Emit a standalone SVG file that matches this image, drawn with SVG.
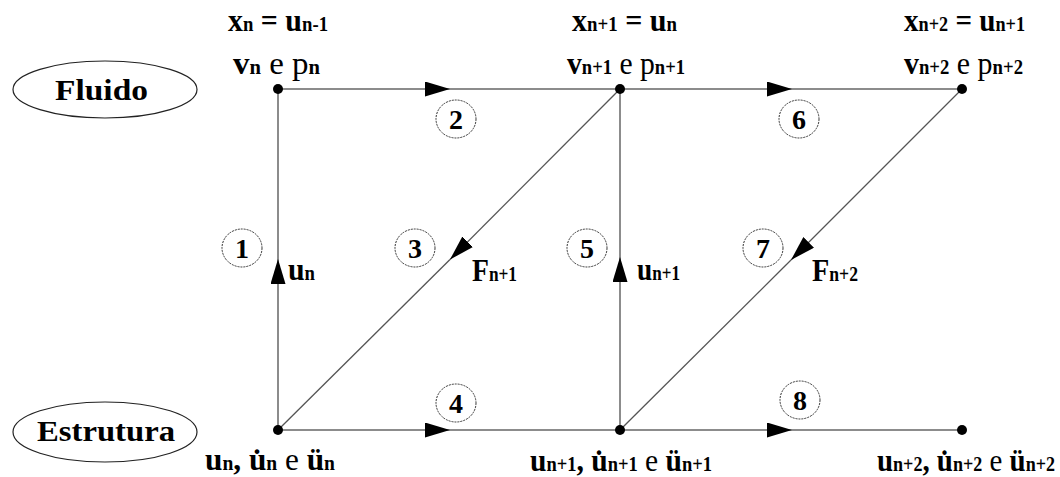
<svg xmlns="http://www.w3.org/2000/svg" width="1060" height="477" viewBox="0 0 1060 477">
<defs>
<style>
text{font-family:"Liberation Serif","Times New Roman",serif;fill:#000}
.b{font-weight:bold}
.m{font-size:32px;font-weight:bold}
.s{font-size:20px;font-weight:bold}
.r{font-weight:normal}
.num{font-size:28px;font-weight:bold;text-anchor:middle}
.circ{fill:none;stroke:#333;stroke-width:1;stroke-dasharray:2 1}
.ell{fill:none;stroke:#222;stroke-width:1.2}
.ln{fill:none;stroke:#8c8c8c;stroke-width:2}
.dg{fill:none;stroke:#555;stroke-width:1.3}
.dot{fill:#000}
</style>
<marker id="ah" markerUnits="userSpaceOnUse" markerWidth="25" markerHeight="15" refX="25" refY="7.5" orient="auto" viewBox="0 0 25 15">
<path d="M0,0 L25,7.5 L0,15 z" fill="#000"/>
</marker>
</defs>
<rect width="1060" height="477" fill="#fff"/>

<g id="connectors">
<path class="ln" d="M278,89 L450,89" marker-end="url(#ah)"/>
<path class="ln" d="M450,89 L620,89"/>
<path class="ln" d="M620,89 L792,89" marker-end="url(#ah)"/>
<path class="ln" d="M792,89 L962,89"/>
<path class="ln" d="M278,430 L450,430" marker-end="url(#ah)"/>
<path class="ln" d="M450,430 L620,430"/>
<path class="ln" d="M620,430 L792,430" marker-end="url(#ah)"/>
<path class="ln" d="M792,430 L962,430"/>
<path class="ln" d="M278,430 L278,259" marker-end="url(#ah)"/>
<path class="ln" d="M278,259 L278,89"/>
<path class="ln" d="M620,430 L620,257" marker-end="url(#ah)"/>
<path class="ln" d="M620,257 L620,89"/>
<path class="dg" d="M620,89 L450,259.5" marker-end="url(#ah)"/>
<path class="dg" d="M450,259.5 L278,430"/>
<path class="dg" d="M962,89 L791,260" marker-end="url(#ah)"/>
<path class="dg" d="M791,260 L620,430"/>
</g>

<g id="fluido">
<ellipse class="ell" cx="105" cy="89.5" rx="92" ry="28.5"/>
<text class="b" x="55" y="100" font-size="30" textLength="93" lengthAdjust="spacingAndGlyphs">Fluido</text>
</g>
<g id="estrutura">
<ellipse class="ell" cx="105" cy="432" rx="92" ry="30"/>
<text class="b" x="37" y="441" font-size="30" textLength="138" lengthAdjust="spacingAndGlyphs">Estrutura</text>
</g>

<g id="node-f-n">
<circle class="dot" cx="278" cy="89" r="5"/>
<text class="m" x="228" y="31" textLength="100" lengthAdjust="spacingAndGlyphs">x<tspan class="s">n</tspan> = u<tspan class="s">n-1</tspan></text>
<text class="m" x="233" y="74" textLength="87" lengthAdjust="spacingAndGlyphs">v<tspan class="s">n</tspan><tspan class="r"> e p</tspan><tspan class="s">n</tspan></text>
</g>
<g id="node-f-n1">
<circle class="dot" cx="620" cy="89" r="5"/>
<text class="m" x="572" y="31" textLength="105" lengthAdjust="spacingAndGlyphs">x<tspan class="s">n+1</tspan> = u<tspan class="s">n</tspan></text>
<text class="m" x="567" y="74" textLength="118" lengthAdjust="spacingAndGlyphs">v<tspan class="s">n+1</tspan><tspan class="r"> e p</tspan><tspan class="s">n+1</tspan></text>
</g>
<g id="node-f-n2">
<circle class="dot" cx="962" cy="89" r="5"/>
<text class="m" x="904" y="31" textLength="121" lengthAdjust="spacingAndGlyphs">x<tspan class="s">n+2</tspan> = u<tspan class="s">n+1</tspan></text>
<text class="m" x="904" y="74" textLength="119" lengthAdjust="spacingAndGlyphs">v<tspan class="s">n+2</tspan><tspan class="r"> e p</tspan><tspan class="s">n+2</tspan></text>
</g>
<g id="node-s-n">
<circle class="dot" cx="278" cy="430" r="5"/>
<text class="m" x="205" y="470" textLength="130" lengthAdjust="spacingAndGlyphs">u<tspan class="s">n</tspan>, u̇<tspan class="s">n</tspan><tspan class="r"> e </tspan>ü<tspan class="s">n</tspan></text>
</g>
<g id="node-s-n1">
<circle class="dot" cx="620" cy="430" r="5"/>
<text class="m" x="530" y="471" textLength="182" lengthAdjust="spacingAndGlyphs">u<tspan class="s">n+1</tspan>, u̇<tspan class="s">n+1</tspan><tspan class="r"> e </tspan>ü<tspan class="s">n+1</tspan></text>
</g>
<g id="node-s-n2">
<circle class="dot" cx="962" cy="430" r="5"/>
<text class="m" x="877" y="471" textLength="178" lengthAdjust="spacingAndGlyphs">u<tspan class="s">n+2</tspan>, u̇<tspan class="s">n+2</tspan><tspan class="r"> e </tspan>ü<tspan class="s">n+2</tspan></text>
</g>

<g id="edge-labels">
<text class="m" x="288" y="280" textLength="27" lengthAdjust="spacingAndGlyphs">u<tspan class="s">n</tspan></text>
<text class="m" x="472" y="281" textLength="45" lengthAdjust="spacingAndGlyphs">F<tspan class="s">n+1</tspan></text>
<text class="m" x="637" y="280" textLength="43" lengthAdjust="spacingAndGlyphs">u<tspan class="s">n+1</tspan></text>
<text class="m" x="812" y="281" textLength="46" lengthAdjust="spacingAndGlyphs">F<tspan class="s">n+2</tspan></text>
</g>

<g id="step-1"><ellipse class="circ" cx="242" cy="248" rx="20" ry="19"/><text class="num" x="242" y="258">1</text></g>
<g id="step-2"><ellipse class="circ" cx="456" cy="119" rx="20" ry="19"/><text class="num" x="456" y="129">2</text></g>
<g id="step-3"><ellipse class="circ" cx="415" cy="248" rx="20" ry="19"/><text class="num" x="415" y="258">3</text></g>
<g id="step-4"><ellipse class="circ" cx="456" cy="403" rx="20" ry="19"/><text class="num" x="456" y="413">4</text></g>
<g id="step-5"><ellipse class="circ" cx="587" cy="248" rx="20" ry="19"/><text class="num" x="587" y="258">5</text></g>
<g id="step-6"><ellipse class="circ" cx="799" cy="119" rx="20" ry="19"/><text class="num" x="799" y="129">6</text></g>
<g id="step-7"><ellipse class="circ" cx="763" cy="248" rx="20" ry="19"/><text class="num" x="763" y="258">7</text></g>
<g id="step-8"><ellipse class="circ" cx="800" cy="400" rx="20" ry="19"/><text class="num" x="800" y="410">8</text></g>
</svg>
